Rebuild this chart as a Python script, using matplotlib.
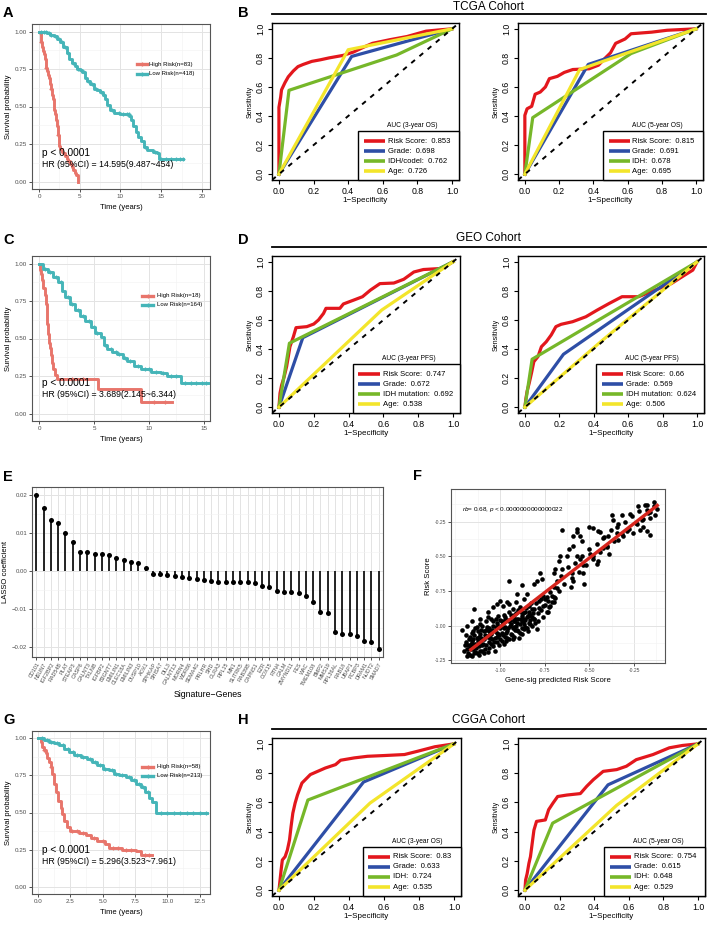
import numpy as np
import matplotlib.pyplot as plt
from matplotlib.patches import Rectangle
from matplotlib.lines import Line2D
from matplotlib.ticker import AutoMinorLocator

plt.rcParams['font.family'] = ['Liberation Sans', 'DejaVu Sans']
plt.rcParams['mathtext.fontset'] = 'custom'
plt.rcParams['mathtext.rm'] = 'Liberation Sans'
plt.rcParams['mathtext.it'] = 'Liberation Sans:italic'

# ---------------- data ----------------
# Kaplan-Meier, TCGA (A)
a_hi_t = [0, 0.1, 0.2, 0.3, 0.4, 0.5, 0.6, 0.7, 0.8, 0.9, 1.0, 1.1, 1.2, 1.3, 1.4, 1.5, 1.6, 1.7, 1.8,
          1.9, 2.0, 2.1, 2.2, 2.3, 2.4, 2.6, 2.8, 3.0, 3.2, 3.4, 3.6, 3.8, 4.0, 4.2, 4.4, 4.6, 4.75]
a_hi_s = [1.0, 0.99, 0.96, 0.93, 0.9, 0.87, 0.85, 0.82, 0.79, 0.76, 0.74, 0.71, 0.69, 0.67, 0.65, 0.62,
          0.58, 0.55, 0.51, 0.48, 0.45, 0.41, 0.37, 0.31, 0.24, 0.22, 0.2, 0.19, 0.17, 0.15, 0.14, 0.12,
          0.1, 0.08, 0.06, 0.045, 0.0]
a_hi_cens = [0.3, 0.9, 1.5, 2.3]
a_lo_t = [0, 0.5, 1.0, 1.4, 1.8, 2.2, 2.6, 3.0, 3.4, 3.7, 4.0, 4.4, 4.7, 5.0, 5.3, 5.6, 5.9, 6.3, 6.7, 7.1,
          7.5, 7.8, 8.1, 8.4, 8.7, 9.2, 9.6, 10.0, 10.6, 11.1, 11.3, 11.6, 11.9, 12.2, 12.5, 12.9, 13.3,
          14.0, 14.5, 14.7, 17.7]
a_lo_s = [1.0, 0.995, 0.99, 0.98, 0.97, 0.95, 0.93, 0.9, 0.86, 0.82, 0.79, 0.77, 0.75, 0.745, 0.73, 0.69,
          0.67, 0.65, 0.62, 0.61, 0.6, 0.58, 0.55, 0.51, 0.48, 0.46, 0.455, 0.45, 0.45, 0.44, 0.41, 0.37,
          0.33, 0.30, 0.27, 0.23, 0.21, 0.2, 0.19, 0.15, 0.15]
a_lo_cens = [0.3, 0.6, 0.9, 1.2, 1.5, 2.0, 2.4, 2.8, 3.2, 3.6, 4.2, 4.8, 5.1, 5.5, 6.0, 6.5, 7.0, 7.6,
             8.0, 9.0, 9.8, 10.3, 10.8, 11.0, 13.0, 14.2, 15.0, 15.6, 16.2, 16.8, 17.3, 17.7]

# Kaplan-Meier, GEO (C)
c_hi_t = [0, 0.1, 0.2, 0.3, 0.4, 0.5, 0.6, 0.68, 0.76, 0.84, 0.92, 1.0, 1.1, 1.2, 1.3, 1.45, 1.6, 5.4,
          9.3, 12.1]
c_hi_s = [1.0, 0.96, 0.93, 0.89, 0.84, 0.79, 0.73, 0.66, 0.6, 0.53, 0.47, 0.44, 0.39, 0.34, 0.3, 0.26,
          0.23, 0.165, 0.08, 0.08]
c_hi_cens = [3.0, 4.0, 10.5, 11.5]
c_lo_t = [0, 0.4, 0.86, 1.3, 1.77, 2.1, 2.4, 2.85, 3.3, 3.76, 4.2, 4.7, 5.1, 5.6, 5.9, 6.2, 6.67, 7.1,
          7.6, 8.0, 8.65, 9.3, 10.2, 11.1, 11.6, 12.9, 15.5]
c_lo_s = [1.0, 0.965, 0.945, 0.91, 0.877, 0.82, 0.78, 0.73, 0.69, 0.65, 0.62, 0.575, 0.54, 0.51, 0.46,
          0.43, 0.41, 0.40, 0.37, 0.35, 0.32, 0.295, 0.28, 0.27, 0.25, 0.205, 0.205]
c_lo_cens = [0.5, 1.0, 1.5, 2.0, 2.6, 3.0, 3.5, 4.0, 4.5, 5.0, 5.3, 6.0, 6.5, 7.0, 7.3, 7.8, 8.3, 9.0,
             9.6, 10.0, 10.6, 11.3, 12.0, 12.5, 13.3, 13.8, 14.3, 14.8, 15.2]

# Kaplan-Meier, CGGA (G)
g_hi_t = [0, 0.2, 0.33, 0.45, 0.6, 0.72, 0.85, 0.98, 1.1, 1.24, 1.37, 1.55, 1.75, 1.88, 2.0, 2.27, 2.5,
          3.2, 3.7, 4.07, 4.6, 5.2, 5.5, 6.5, 7.6, 8.0, 8.8]
g_hi_s = [1.0, 0.977, 0.94, 0.92, 0.9, 0.87, 0.84, 0.81, 0.76, 0.69, 0.64, 0.58, 0.53, 0.49, 0.44, 0.40,
          0.375, 0.36, 0.35, 0.33, 0.31, 0.285, 0.26, 0.25, 0.24, 0.21, 0.21]
g_hi_cens = [0.5, 1.0, 2.6, 3.0, 3.5, 4.3, 5.0, 5.8, 6.2, 6.8, 7.2, 8.3, 8.6]
g_lo_t = [0, 0.46, 0.85, 1.24, 1.6, 2.0, 2.4, 2.8, 3.3, 3.8, 4.2, 4.6, 5.0, 5.5, 5.9, 6.26, 6.8, 7.2,
          7.55, 7.94, 8.3, 8.6, 8.84, 9.1, 13.1]
g_lo_s = [1.0, 0.99, 0.977, 0.966, 0.955, 0.93, 0.91, 0.886, 0.875, 0.864, 0.84, 0.818, 0.795, 0.784,
          0.76, 0.75, 0.74, 0.716, 0.693, 0.67, 0.636, 0.60, 0.568, 0.50, 0.50]
g_lo_cens = [0.3, 0.7, 1.0, 1.5, 1.9, 2.3, 2.7, 3.0, 3.5, 4.0, 4.4, 4.8, 5.2, 5.7, 6.0, 6.5, 7.0, 7.4,
             7.8, 8.1, 8.5, 9.5, 10.0, 10.5, 11.0, 11.5, 12.0, 12.5, 13.0]

# ROC curves: (1-specificity, sensitivity)
b1_risk = ([0, 0, 0.01, 0.015, 0.035, 0.054, 0.083, 0.11, 0.14, 0.19, 0.24, 0.29, 0.37, 0.43, 0.49, 0.54,
            0.64, 0.74, 0.85, 0.93, 1.0],
           [0, 0.46, 0.53, 0.58, 0.63, 0.67, 0.71, 0.74, 0.755, 0.776, 0.787, 0.8, 0.817, 0.84, 0.874,
            0.9, 0.925, 0.947, 0.984, 0.993, 1.0])
b1_grade = ([0, 0.42, 1], [0, 0.81, 1])
b1_idh = ([0, 0.058, 0.68, 1], [0, 0.577, 0.82, 1])
b1_age = ([0, 0.40, 1], [0, 0.856, 1])
b1_auc = [0.853, 0.698, 0.762, 0.726]

b2_risk = ([0, 0, 0.013, 0.04, 0.06, 0.09, 0.12, 0.143, 0.19, 0.23, 0.28, 0.375, 0.43, 0.47, 0.5, 0.53,
            0.585, 0.62, 0.74, 0.83, 1.0],
           [0, 0.405, 0.45, 0.467, 0.55, 0.565, 0.60, 0.657, 0.673, 0.70, 0.72, 0.725, 0.75, 0.80, 0.835,
            0.9, 0.93, 0.966, 0.977, 0.99, 1.0])
b2_grade = ([0, 0.37, 1], [0, 0.755, 1])
b2_idh = ([0, 0.046, 0.62, 1], [0, 0.389, 0.83, 1])
b2_age = ([0, 0.32, 1], [0, 0.72, 1])
b2_auc = [0.815, 0.691, 0.678, 0.695]

d1_risk = ([0, 0.006, 0.015, 0.03, 0.044, 0.054, 0.063, 0.083, 0.098, 0.16, 0.2, 0.227, 0.256, 0.27,
            0.35, 0.37, 0.43, 0.48, 0.525, 0.58, 0.66, 0.717, 0.775, 0.83, 0.93, 0.967, 1.0],
           [0, 0.096, 0.15, 0.21, 0.28, 0.35, 0.416, 0.485, 0.547, 0.554, 0.572, 0.6, 0.645, 0.68, 0.68,
            0.71, 0.737, 0.76, 0.805, 0.85, 0.854, 0.88, 0.93, 0.947, 0.954, 0.977, 1.0])
d1_grade = ([0, 0.137, 1], [0, 0.478, 1])
d1_idh = ([0, 0.06, 1], [0, 0.44, 1])
d1_age = ([0, 0.59, 1], [0, 0.668, 1])
d1_auc = [0.747, 0.672, 0.692, 0.538]

d2_risk = ([0, 0.006, 0.013, 0.025, 0.038, 0.052, 0.076, 0.096, 0.124, 0.153, 0.18, 0.21, 0.277, 0.354,
            0.42, 0.49, 0.564, 0.66, 0.755, 0.85, 0.93, 0.975, 1.0],
           [0, 0.06, 0.11, 0.165, 0.233, 0.313, 0.348, 0.416, 0.45, 0.497, 0.554, 0.57, 0.588, 0.622,
            0.668, 0.714, 0.76, 0.76, 0.805, 0.85, 0.91, 0.943, 1.0])
d2_grade = ([0, 0.224, 1], [0, 0.364, 1])
d2_idh = ([0, 0.042, 1], [0, 0.33, 1])
d2_age = ([0, 0.45, 1], [0, 0.46, 1])
d2_auc = [0.66, 0.569, 0.624, 0.506]

h1_risk = ([0, 0.006, 0.012, 0.019, 0.035, 0.048, 0.06, 0.069, 0.079, 0.092, 0.106, 0.131, 0.15, 0.179,
            0.217, 0.265, 0.323, 0.352, 0.43, 0.506, 0.6, 0.717, 0.794, 0.89, 1.0],
           [0, 0.069, 0.137, 0.206, 0.229, 0.275, 0.343, 0.435, 0.526, 0.595, 0.652, 0.732, 0.755, 0.79,
            0.81, 0.835, 0.858, 0.888, 0.904, 0.915, 0.92, 0.927, 0.95, 0.98, 1.0])
h1_grade = ([0, 0.483, 1], [0, 0.739, 1])
h1_idh = ([0, 0.165, 1], [0, 0.616, 1])
h1_age = ([0, 0.52, 1], [0, 0.595, 1])
h1_auc = [0.83, 0.633, 0.724, 0.535]

h2_risk = ([0, 0.004, 0.013, 0.023, 0.032, 0.042, 0.052, 0.067, 0.118, 0.137, 0.162, 0.189, 0.242, 0.32,
            0.357, 0.395, 0.452, 0.53, 0.586, 0.643, 0.74, 0.834, 0.91, 1.0],
           [0, 0.069, 0.114, 0.183, 0.229, 0.32, 0.41, 0.47, 0.48, 0.55, 0.595, 0.64, 0.65, 0.66, 0.71,
            0.755, 0.812, 0.824, 0.847, 0.892, 0.927, 0.973, 0.989, 1.0])
h2_grade = ([0, 0.48, 1], [0, 0.72, 1])
h2_idh = ([0, 0.16, 1], [0, 0.458, 1])
h2_age = ([0, 0.53, 1], [0, 0.58, 1])
h2_auc = [0.754, 0.615, 0.648, 0.529]

# LASSO coefficients (E)
e_genes = ['CD101', 'NSUN7', 'IGF2BP2', 'RAD54B', 'PLAT', 'STEAP3', 'CASP6', 'GALNT3', 'TXLNB', 'IGFBP2',
           'B3GNT7', 'EMILIN1', 'CLEC18A', 'EMILIN3', 'DUSP10', 'AOX1', 'SPHKAP', 'SHISA7', 'DLL3',
           'GALNT13', 'MORN4', 'WDR86', 'SEMA4G', 'PRLHR', 'SHD', 'GLRA3', 'RPL15', 'MN1', 'SLITRK5',
           'RAB39B', 'CAPNS1', 'EZR', 'COX15', 'RTN4', 'GALM', 'ZMYND11', 'FES', 'WAC', 'TMEM108', 'BMP2',
           'MMS19', 'RPL36AL', 'RAB18', 'UBAP1', 'PCBP3', 'DRAM1', 'NUDT2', 'SMAD7']
e_coef = [0.0201, 0.0165, 0.0133, 0.0127, 0.0099, 0.0076, 0.0050, 0.0049, 0.0044, 0.0044, 0.0043, 0.0034,
          0.0029, 0.0025, 0.0020, 0.0009,
          -0.0007, -0.0009, -0.0010, -0.0012, -0.0015, -0.0017, -0.0021, -0.0023, -0.0026, -0.0028,
          -0.0029, -0.0029, -0.0030, -0.0030, -0.0031, -0.0040, -0.0042, -0.0052, -0.0055, -0.0056,
          -0.0057, -0.0066, -0.0082, -0.0108, -0.0111, -0.0159, -0.0165, -0.0165, -0.0171, -0.0185,
          -0.0186, -0.0205]

# Scatter (F): gene-sig predicted risk score vs risk score
f_points = [
    (-1.20, -1.18), (-1.19, -1.12), (-1.18, -1.20), (-1.17, -1.15), (-1.17, -1.08), (-1.16, -1.22),
    (-1.16, -1.11), (-1.15, -1.17), (-1.15, -1.04), (-1.14, -1.13), (-1.14, -1.19), (-1.13, -1.09),
    (-1.13, -1.01), (-1.12, -1.15), (-1.12, -1.21), (-1.11, -1.06), (-1.11, -1.12), (-1.10, -1.18),
    (-1.10, -1.00), (-1.09, -1.10), (-1.09, -1.04), (-1.08, -1.14), (-1.08, -0.97), (-1.07, -1.08),
    (-1.07, -1.19), (-1.06, -1.02), (-1.06, -1.12), (-1.05, -1.06), (-1.05, -0.95), (-1.04, -1.15),
    (-1.04, -1.00), (-1.03, -1.09), (-1.03, -1.04), (-1.02, -0.98), (-1.02, -1.12), (-1.01, -1.06),
    (-1.01, -0.93), (-1.00, -1.02), (-1.00, -1.10), (-0.99, -0.97), (-0.99, -1.05), (-0.98, -1.13),
    (-0.98, -0.92), (-0.97, -1.01), (-0.97, -1.08), (-0.96, -0.96), (-0.96, -1.04), (-0.95, -0.90),
    (-0.95, -1.10), (-0.94, -0.99), (-0.94, -1.06), (-0.93, -0.94), (-0.93, -1.02), (-0.92, -0.97),
    (-0.92, -1.08), (-0.91, -0.91), (-0.91, -1.00), (-0.90, -0.95), (-0.90, -1.04), (-0.89, -0.88),
    (-0.89, -0.99), (-0.88, -0.93), (-0.88, -1.06), (-0.87, -0.97), (-0.86, -0.90), (-0.86, -1.01),
    (-0.85, -0.94), (-0.84, -0.86), (-0.84, -0.98), (-0.83, -0.92), (-0.82, -0.88), (-0.82, -1.00),
    (-0.81, -0.95), (-0.80, -0.84), (-0.79, -0.91), (-0.78, -0.87), (-0.77, -0.81), (-0.76, -0.94),
    (-0.75, -0.85), (-0.74, -0.79), (-0.73, -0.90), (-0.72, -0.76), (-0.71, -0.83), (-0.70, -0.72),
    (-0.69, -0.80), (-0.68, -0.68), (-0.67, -0.75), (-0.66, -0.64), (-0.64, -0.70), (-0.62, -0.58),
    (-0.60, -0.66), (-0.58, -0.55), (-0.56, -0.61), (-0.54, -0.50), (-0.52, -0.56), (-0.50, -0.45),
    (-0.48, -0.52), (-0.46, -0.41), (-0.44, -0.47), (-0.42, -0.36), (-0.40, -0.43), (-0.38, -0.31),
    (-0.36, -0.39), (-0.34, -0.27), (-0.32, -0.34), (-0.30, -0.25), (-0.28, -0.30), (-0.26, -0.21),
    (-0.24, -0.26), (-0.22, -0.17), (-0.20, -0.23), (-0.18, -0.13), (-0.16, -0.18), (-0.14, -0.11),
    (-0.12, -0.16),
    (-1.195, -1.14), (-1.185, -1.22), (-1.175, -1.10), (-1.165, -1.17), (-1.155, -1.13), (-1.145, -1.07),
    (-1.135, -1.16), (-1.125, -1.11), (-1.115, -1.18), (-1.105, -1.03), (-1.095, -1.13), (-1.085, -1.07),
    (-1.075, -1.01), (-1.065, -1.16), (-1.055, -1.09), (-1.045, -1.03), (-1.035, -1.12), (-1.025, -0.95),
    (-1.015, -1.08), (-1.005, -1.14), (-0.995, -1.00), (-0.985, -1.07), (-0.975, -0.94), (-0.965, -1.11),
    (-0.955, -1.02), (-0.945, -0.96), (-0.935, -1.07), (-0.925, -0.92), (-0.915, -1.03), (-0.905, -0.98),
    (-0.895, -1.09), (-0.885, -0.90), (-0.875, -1.02), (-0.865, -0.95), (-0.855, -0.87), (-0.845, -1.04),
    (-0.835, -0.96), (-0.825, -0.84), (-0.815, -0.91), (-0.805, -0.98),
    (-1.19, -1.07), (-1.18, -1.14), (-1.17, -1.21), (-1.16, -1.05), (-1.15, -1.10), (-1.14, -1.02),
    (-1.13, -1.20), (-1.12, -1.08), (-1.11, -0.99), (-1.10, -1.14), (-1.09, -1.20), (-1.08, -1.03),
    (-1.07, -0.94), (-1.06, -1.07), (-1.05, -1.13), (-1.04, -0.97), (-1.03, -1.18), (-1.02, -1.05),
    (-1.01, -1.00), (-1.00, -0.96), (-0.99, -1.11), (-0.98, -1.02), (-0.97, -0.96), (-0.96, -1.09),
    (-0.95, -0.97), (-0.94, -0.92), (-0.93, -1.10), (-0.92, -1.01), (-0.91, -0.95), (-0.90, -0.89),
    (-0.89, -1.05), (-0.88, -0.97), (-0.87, -0.91), (-0.86, -0.96), (-0.85, -1.02), (-0.84, -0.92),
    (-0.83, -0.99), (-0.82, -0.94), (-0.81, -0.88), (-0.79, -0.97), (-0.78, -0.82), (-0.77, -0.89),
    (-0.76, -0.86), (-0.74, -0.90), (-0.73, -0.82), (-0.72, -0.86), (-0.70, -0.79), (-0.68, -0.73),
    (-1.185, -1.17), (-1.165, -1.13), (-1.145, -1.20), (-1.125, -1.04), (-1.105, -1.09), (-1.085, -1.17),
    (-1.065, -1.04), (-1.045, -1.10), (-1.025, -1.01), (-1.005, -1.07), (-0.985, -0.98), (-0.965, -1.05),
    (-0.945, -1.00), (-0.925, -0.97), (-0.905, -1.03), (-0.885, -0.95), (-0.865, -0.99), (-0.845, -0.93),
    (-0.655, -0.307), (-0.571, -0.302), (-0.57, -0.326), (-0.50, -0.29), (-0.478, -0.296),
    (-0.454, -0.319), (-0.44, -0.326), (-0.376, -0.20), (-0.367, -0.24), (-0.348, -0.285),
    (-0.32, -0.20), (-0.275, -0.196), (-0.227, -0.14), (-0.19, -0.128), (-0.171, -0.19), (-0.2, -0.29),
    (-0.18, -0.165), (-0.16, -0.22), (-0.133, -0.2), (-0.14, -0.14), (-0.59, -0.355), (-0.553, -0.355),
    (-0.544, -0.391), (-0.59, -0.427), (-0.617, -0.45), (-0.665, -0.498), (-0.673, -0.534),
    (-0.691, -0.594), (-0.70, -0.618), (-0.627, -0.498), (-0.571, -0.498), (-0.553, -0.522),
    (-0.538, -0.563), (-0.534, -0.618), (-0.53, -0.70), (-0.478, -0.498), (-0.497, -0.486),
    (-0.45, -0.534), (-0.46, -0.558), (-0.426, -0.438), (-0.404, -0.426), (-0.389, -0.486),
    (-0.423, -0.367), (-0.395, -0.355), (-0.348, -0.33), (-0.339, -0.379), (-0.311, -0.355),
    (-0.292, -0.32), (-0.255, -0.33), (-0.218, -0.308), (-0.236, -0.27), (-0.208, -0.236),
    (-0.18, -0.32), (-0.16, -0.343), (-0.60, -0.618), (-0.59, -0.677), (-0.605, -0.725),
    (-0.655, -0.594), (-0.71, -0.785), (-0.70, -0.832), (-0.728, -0.868), (-0.76, -0.785),
    (-0.747, -0.808), (-0.765, -0.665), (-0.774, -0.618), (-0.793, -0.677), (-0.81, -0.70),
    (-0.849, -0.77), (-0.877, -0.71), (-0.905, -0.77), (-0.95, -0.677), (-0.96, -0.832),
    (-0.84, -0.904), (-0.886, -0.868), (-0.867, -0.808), (-0.795, -1.023), (-0.81, -0.951),
    (-0.867, -1.023), (-1.149, -0.88), (-1.214, -1.035), (-1.186, -1.0), (-1.16, -0.964),
    (-1.11, -0.951), (-1.07, -0.904), (-1.04, -0.868), (-1.0, -0.82), (-1.02, -0.844),
    (-0.985, -0.856), (-0.95, -0.844), (-0.93, -0.88), (-0.912, -0.832),
]

# ---------------- figure ----------------
W, H = 708, 927
fig = plt.figure(figsize=(W / 100, H / 100), dpi=100)

KM_RED = '#E8756B'
KM_TEAL = '#45B5B8'
ROC_COLORS = ['#E3171D', '#2E4EA6', '#76B729', '#F3E52B']


def px_axes(l, t, r, b):
    return fig.add_axes([l / W, 1 - b / H, (r - l) / W, (b - t) / H])


def gg_style(ax, tick_size=4.5):
    for sp in ax.spines.values():
        sp.set_color('#555555')
        sp.set_linewidth(0.8)
    ax.grid(True, which='major', color='#E3E3E3', lw=0.7)
    ax.grid(True, which='minor', color='#F2F2F2', lw=0.4)
    ax.set_axisbelow(True)
    ax.tick_params(which='major', length=2, width=0.6, color='#333333',
                   labelsize=tick_size, labelcolor='#4D4D4D', pad=1.5)
    ax.tick_params(which='minor', length=0)


def km_panel(ax, curves, xlim, xticks, xticklabels, leg_labels, leg_pos, ptxt_y, hr_text):
    gg_style(ax)
    for (t, s, cens), col in zip(curves, [KM_RED, KM_TEAL]):
        t = np.asarray(t)
        s = np.asarray(s)
        ax.step(t, s, where='post', color=col, lw=2.1, zorder=3)
        cens = np.asarray(cens)
        cy = s[np.searchsorted(t, cens, side='right') - 1]
        ax.plot(cens, cy, '+', color=col, ms=3.4, mew=0.9, zorder=4)
    ax.set_xlim(*xlim)
    ax.set_ylim(-0.05, 1.05)
    ax.set_xticks(xticks)
    ax.set_xticklabels(xticklabels)
    ax.set_yticks([0, 0.25, 0.5, 0.75, 1.0])
    ax.set_yticklabels(['0.00', '0.25', '0.50', '0.75', '1.00'])
    ax.xaxis.set_minor_locator(AutoMinorLocator(2))
    ax.yaxis.set_minor_locator(AutoMinorLocator(2))
    ax.set_xlabel('Time (years)', fontsize=5.5, labelpad=4)
    ax.set_ylabel('Survival probability', fontsize=5.5, labelpad=2)
    lx0, lx1, tx, ly = leg_pos
    for i, (lab, col) in enumerate(zip(leg_labels, [KM_RED, KM_TEAL])):
        yy = ly - i * 0.056
        ax.plot([lx0, lx1], [yy, yy], color=col, lw=2.4, transform=ax.transAxes)
        ax.plot([(lx0 + lx1) / 2], [yy], '+', color=col, ms=3, mew=0.9, transform=ax.transAxes)
        ax.text(tx, yy, lab, fontsize=4.3, va='center', ha='left', transform=ax.transAxes)
    ax.text(0.055, ptxt_y, 'p < 0.0001', fontsize=7.3, va='center', transform=ax.transAxes, zorder=6)
    ax.text(0.055, ptxt_y - 0.07, hr_text, fontsize=6.3, va='center', transform=ax.transAxes, zorder=6)


def roc_panel(ax, curves, names, aucs, title, box_left):
    for (fx, ty), col in zip(curves, ROC_COLORS):
        ax.plot(fx, ty, color=col, lw=2.3, solid_joinstyle='round', zorder=3)
    ax.plot([-0.04, 1.04], [-0.04, 1.04], color='black', lw=1.4, ls=(0, (2.5, 3)), zorder=4)
    ax.set_xlim(-0.04, 1.04)
    ax.set_ylim(-0.04, 1.04)
    ticks = [0, 0.2, 0.4, 0.6, 0.8, 1.0]
    labs = ['0.0', '0.2', '0.4', '0.6', '0.8', '1.0']
    ax.set_xticks(ticks)
    ax.set_xticklabels(labs)
    ax.set_yticks(ticks)
    ax.set_yticklabels(labs, rotation=90, va='center')
    ax.tick_params(length=3, width=0.8, labelsize=6.3, pad=2)
    for sp in ax.spines.values():
        sp.set_linewidth(1.0)
    ax.set_xlabel('1\u2212Specificity', fontsize=5.8, labelpad=0.5)
    ax.set_ylabel('Sensitivity', fontsize=5, labelpad=2)
    ax.add_patch(Rectangle((box_left, 0), 1 - box_left, 0.31, transform=ax.transAxes,
                           facecolor='white', edgecolor='black', lw=1.0, zorder=6, clip_on=False))
    ax.text(box_left + 0.155, 0.344, title, fontsize=4.8, ha='left', va='center',
            transform=ax.transAxes, zorder=7)
    for i, (nm, auc, col) in enumerate(zip(names, aucs, ROC_COLORS)):
        yy = 0.248 - i * 0.0637
        ax.plot([box_left + 0.03, box_left + 0.145], [yy, yy], color=col, lw=2.6,
                transform=ax.transAxes, zorder=7, solid_capstyle='butt')
        ax.text(box_left + 0.158, yy, f'{nm}:  {auc}', fontsize=5.5, ha='left', va='center',
                transform=ax.transAxes, zorder=7)


def cohort_title(text, y_text, y_line):
    fig.text(488 / W, 1 - y_text / H, text, ha='center', va='center', fontsize=8.5)
    fig.add_artist(Line2D([272 / W, 706 / W], [1 - y_line / H] * 2, color='black', lw=1.3))


def letter(ch, x, y):
    fig.text(x / W, 1 - y / H, ch, fontsize=10.5, fontweight='bold', ha='left', va='center')


# ---- A ----
axA = px_axes(32, 24, 210, 189)
km_panel(axA, [(a_hi_t, a_hi_s, a_hi_cens), (a_lo_t, a_lo_s, a_lo_cens)],
         (-0.86, 21), [0, 5, 10, 15, 20], ['0', '5', '10', '15', '20'],
         ['High Risk(n=83)', 'Low Risk(n=418)'], (0.59, 0.645, 0.66, 0.756),
         0.216, 'HR (95%CI) = 14.595(9.487~454)')

# ---- C ----
axC = px_axes(32, 256, 210, 421)
km_panel(axC, [(c_hi_t, c_hi_s, c_hi_cens), (c_lo_t, c_lo_s, c_lo_cens)],
         (-0.64, 15.55), [0, 5, 10, 15], ['0', '5', '10', '15'],
         ['High Risk(n=18)', 'Low Risk(n=164)'], (0.62, 0.68, 0.70, 0.76),
         0.23, 'HR (95%CI) = 3.689(2.145~6.344)')

# ---- G ----
axG = px_axes(32, 731, 210, 894)
km_panel(axG, [(g_hi_t, g_hi_s, g_hi_cens), (g_lo_t, g_lo_s, g_lo_cens)],
         (-0.46, 13.3), [0, 2.5, 5, 7.5, 10, 12.5], ['0.0', '2.5', '5.0', '7.5', '10.0', '12.5'],
         ['High Risk(n=58)', 'Low Risk(n=213)'], (0.62, 0.68, 0.70, 0.78),
         0.27, 'HR (95%CI) = 5.296(3.523~7.961)')

# ---- B ----
cohort_title('TCGA Cohort', 7, 14)
roc_panel(px_axes(272, 23, 459, 180), [b1_risk, b1_grade, b1_idh, b1_age],
          ['Risk Score', 'Grade', 'IDH/codel', 'Age'], b1_auc, 'AUC (3-year OS)', 0.46)
roc_panel(px_axes(518, 23, 703, 180), [b2_risk, b2_grade, b2_idh, b2_age],
          ['Risk Score', 'Grade', 'IDH', 'Age'], b2_auc, 'AUC (5-year OS)', 0.46)

# ---- D ----
cohort_title('GEO Cohort', 238, 247)
roc_panel(px_axes(272, 256, 460, 413), [d1_risk, d1_grade, d1_idh, d1_age],
          ['Risk Score', 'Grade', 'IDH mutation', 'Age'], d1_auc, 'AUC (3-year PFS)', 0.43)
roc_panel(px_axes(518, 256, 704, 413), [d2_risk, d2_grade, d2_idh, d2_age],
          ['Risk Score', 'Grade', 'IDH mutation', 'Age'], d2_auc, 'AUC (5-year PFS)', 0.42)

# ---- H ----
cohort_title('CGGA Cohort', 720, 729)
roc_panel(px_axes(272, 738, 461, 896), [h1_risk, h1_grade, h1_idh, h1_age],
          ['Risk Score', 'Grade', 'IDH', 'Age'], h1_auc, 'AUC (3-year OS)', 0.48)
roc_panel(px_axes(518, 738, 705, 896), [h2_risk, h2_grade, h2_idh, h2_age],
          ['Risk Score', 'Grade', 'IDH', 'Age'], h2_auc, 'AUC (5-year OS)', 0.46)

# ---- E ----
axE = px_axes(32, 487, 383, 657)
gg_style(axE, tick_size=4.3)
xe = np.arange(len(e_genes))
axE.vlines(xe, 0, e_coef, color='black', lw=1.2, zorder=3)
axE.scatter(xe, e_coef, s=13, color='black', zorder=4, linewidths=0)
axE.set_xlim(-0.6, len(e_genes) - 0.4)
axE.set_ylim(-0.0226, 0.0221)
axE.set_xticks(xe)
axE.set_xticklabels(e_genes, rotation=60, ha='right', rotation_mode='anchor', fontsize=3.9)
axE.set_yticks([-0.02, -0.01, 0.0, 0.01, 0.02])
axE.set_yticklabels(['\u22120.02', '\u22120.01', '0.00', '0.01', '0.02'])
axE.yaxis.set_minor_locator(AutoMinorLocator(2))
axE.set_xlabel('Signature\u2212Genes', fontsize=6.3, labelpad=3)
axE.set_ylabel('LASSO coefficient', fontsize=5.5, labelpad=2)

# ---- F ----
axF = px_axes(451, 489, 665, 663)
gg_style(axF, tick_size=3.6)
fx = np.array([p[0] for p in f_points])
fy = np.array([p[1] for p in f_points])
axF.scatter(fx, fy, s=11, color='black', linewidths=0, zorder=3)
slope, icpt = np.polyfit(fx, fy, 1)
xl = np.array([fx.min() + 0.05, fx.max()])
axF.plot(xl, slope * xl + icpt, color='#D7261E', lw=2.4, zorder=4)
axF.set_xlim(-1.275, -0.077)
axF.set_ylim(-1.27, -0.014)
axF.set_xticks([-1.0, -0.75, -0.5, -0.25])
axF.set_xticklabels(['-1.00', '-0.75', '-0.50', '-0.25'])
axF.set_yticks([-1.25, -1.0, -0.75, -0.5, -0.25])
axF.set_yticklabels(['-1.25', '-1.00', '-0.75', '-0.50', '-0.25'])
axF.xaxis.set_minor_locator(AutoMinorLocator(2))
axF.yaxis.set_minor_locator(AutoMinorLocator(2))
axF.set_xlabel('Gene-sig predicted Risk Score', fontsize=5.6, labelpad=3)
axF.set_ylabel('Risk Score', fontsize=5.6, labelpad=2)
axF.text(0.05, 0.885, r'$\it{rb}$= 0.68, $\it{p}$ < 0.0000000000000022', fontsize=4.6,
         transform=axF.transAxes, va='center')

# ---- panel letters ----
letter('A', 3, 13)
letter('B', 238, 13)
letter('C', 3, 240)
letter('D', 238, 240)
letter('E', 3, 477)
letter('F', 413, 476)
letter('G', 3, 720)
letter('H', 238, 720)

fig.savefig('out.png', dpi=100)
